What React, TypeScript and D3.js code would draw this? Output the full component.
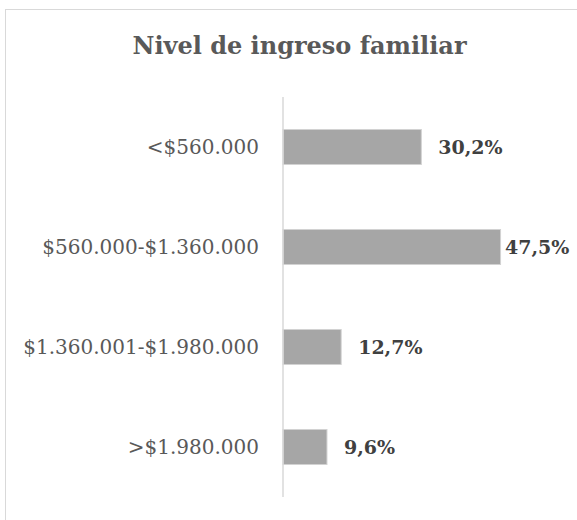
import * as d3 from 'd3';

// datos del gráfico
const categorias = ['<$560.000', '$560.000-$1.360.000', '$1.360.001-$1.980.000', '>$1.980.000'];
const porcentajes = [30.2, 47.5, 12.7, 9.6];
const etiquetas = ['30,2%', '47,5%', '12,7%', '9,6%'];
const titulo = 'Nivel de ingreso familiar';

const W = 577;
const H = 520;
const FONT = '"DejaVu Serif", "Liberation Serif", serif';

export default function App() {
    const axisX = 283;

    // escalas
    const y = d3.scaleBand<string>()
        .domain(categorias)
        .range([97, 497])
        .paddingInner(0.65)
        .paddingOuter(0.325);

    const x = d3.scaleLinear()
        .domain([0, 50])
        .range([axisX, axisX + 229]);

    return (
        <svg width={W} height={H} style={{ position: 'fixed', left: 0, top: 0, background: '#fff' }}>
            {/* borde del área del gráfico */}
            <rect x={5.5} y={9.5} width={700} height={700} fill="#fff" stroke="#d9d9d9" strokeWidth={1} />

            <text x={299.5} y={54} textAnchor="middle" fontFamily={FONT} fontWeight="bold"
                fontSize={24} fill="#595959">{titulo}</text>

            {/* barras */}
            {categorias.map((c, i) => (
                <rect key={c}
                    x={x(0)}
                    y={y(c)}
                    width={x(porcentajes[i]) - x(0)}
                    height={y.bandwidth()}
                    fill="#a6a6a6"
                    stroke="#d2d2d2"
                    strokeWidth={1} />
            ))}

            {/* eje vertical */}
            <line x1={axisX} x2={axisX} y1={97} y2={497} stroke="#d9d9d9" strokeWidth={1.5} />

            {/* etiquetas de categoría */}
            {categorias.map(c => (
                <text key={c} x={259} y={(y(c) ?? 0) + y.bandwidth() / 2}
                    textAnchor="end" dominantBaseline="central"
                    fontFamily={FONT} fontSize={20} fill="#595959">{c}</text>
            ))}

            {/* etiquetas de valor */}
            {categorias.map((c, i) => (
                <text key={c} x={Math.min(x(porcentajes[i]) + 17, 505)}
                    y={(y(c) ?? 0) + y.bandwidth() / 2}
                    dominantBaseline="central"
                    fontFamily={FONT} fontWeight="bold" fontSize={19} fill="#404040">{etiquetas[i]}</text>
            ))}
        </svg>
    );
}
